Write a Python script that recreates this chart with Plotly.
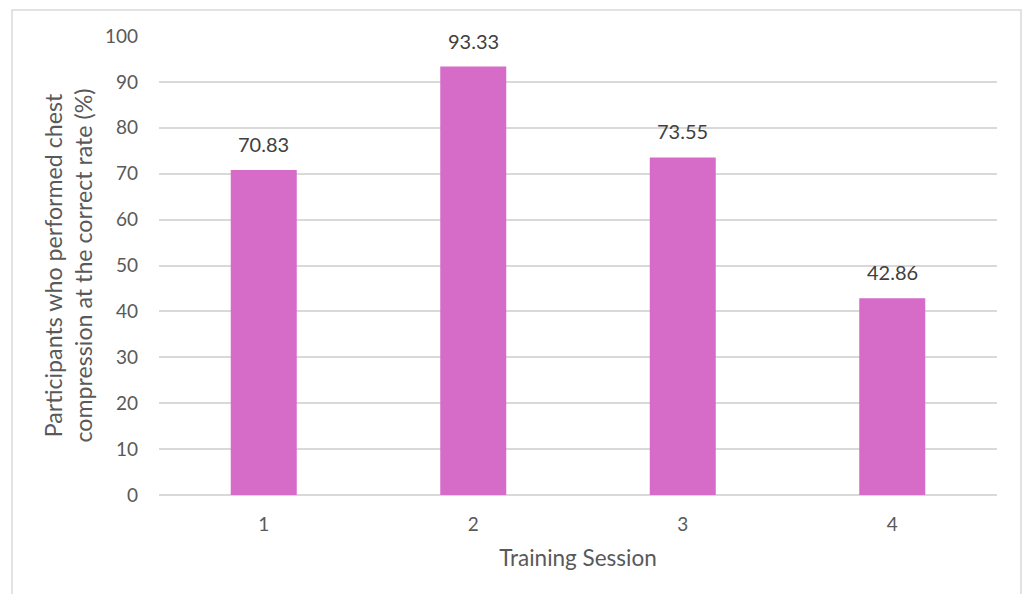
import plotly.graph_objects as go

sessions = ["1", "2", "3", "4"]
values = [70.83, 93.33, 73.55, 42.86]
labels = ["70.83", "93.33", "73.55", "42.86"]
y_ticks = [0, 10, 20, 30, 40, 50, 60, 70, 80, 90, 100]

font_family = "Lato, 'Open Sans', sans-serif"
txt_color = "#595959"

fig = go.Figure()
fig.add_trace(go.Bar(
    x=sessions, y=values,
    marker=dict(color="#D66BC8", line=dict(width=0)),
    width=0.315,
))

for i, (v, t) in enumerate(zip(values, labels)):
    fig.add_annotation(x=i, y=v, xref="x", yref="y", text=t, showarrow=False,
                       yanchor="bottom", yshift=12,
                       font=dict(size=20, color="#404040", family=font_family))

fig.update_layout(
    width=1024, height=594,
    margin=dict(l=159, r=27, t=36, b=99),
    paper_bgcolor="white", plot_bgcolor="white",
    showlegend=False,
    font=dict(family=font_family, color=txt_color, size=19),
    xaxis=dict(
        type="category", range=[-0.5, 3.5], showgrid=False, ticks="", showline=False,
        tickfont=dict(size=19, color=txt_color), ticklabelstandoff=16,
        title=dict(text="Training Session", font=dict(size=22.5, color=txt_color), standoff=16),
    ),
    yaxis=dict(
        range=[0, 100], tickvals=y_ticks, showgrid=True, gridcolor="#d9d9d9", gridwidth=1.5,
        zeroline=True, zerolinecolor="#d9d9d9", zerolinewidth=1.5,
        ticks="", showline=False, tickfont=dict(size=19, color=txt_color),
        ticklabelstandoff=20,
        title=dict(text="Participants who performed chest<br>compression at the correct rate (%)",
                   font=dict(size=23.2, color=txt_color), standoff=5),
    ),
    shapes=[dict(type="rect", xref="paper", yref="paper",
                 x0=-0.1754, x1=1.0286, y0=-0.3, y1=1.0566,
                 line=dict(color="#d9d9d9", width=1.5), fillcolor="rgba(0,0,0,0)", layer="below")],
)

fig.write_html("out.html")
